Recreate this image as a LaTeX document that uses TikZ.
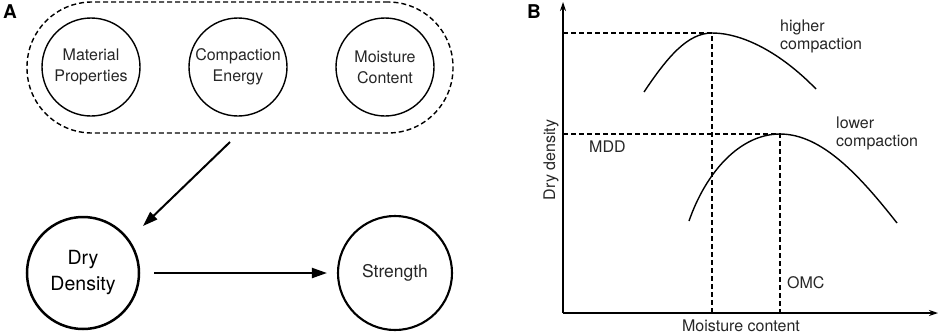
\documentclass[tikz,border=0pt]{standalone}
\usepackage{fontspec}
\setmainfont{TeX Gyre Heros}
\usetikzlibrary{arrows.meta}
\begin{document}
\begin{tikzpicture}[x=1pt,y=-1pt,
  smallc/.style={circle, draw, line width=1.4pt, minimum size=98pt, inner sep=0pt, align=center, text=black!85, font=\fontsize{16}{21}\selectfont},
  dryc/.style={circle, draw, line width=2.5pt, minimum size=112pt, inner sep=0pt, align=center, font=\fontsize{19.5}{26}\selectfont},
  strc/.style={circle, draw, line width=2.1pt, minimum size=114pt, inner sep=0pt, align=center, text=black!85, font=\fontsize{17.5}{21}\selectfont},
  grpbox/.style={draw, dashed, dash pattern=on 5pt off 3pt, line width=1.4pt, rounded corners=65pt, minimum width=426pt, minimum height=131pt, inner sep=0pt},
  bigarrow/.style={line width=2pt, -{Triangle[length=15pt,width=10pt]}},
  axis/.style={line width=1.3pt, -{Stealth[length=9pt,width=6pt]}},
  guide/.style={line width=1.2pt, dashed, dash pattern=on 5pt off 3pt},
  curve/.style={line width=1.4pt},
  lbl/.style={inner sep=0pt, text=black!85, font=\fontsize{16}{19}\selectfont},
  panel/.style={inner sep=0pt, font=\fontsize{19}{22}\selectfont\bfseries}
]
\useasboundingbox (0,0) rectangle (941,333);

% ---------- Panel A ----------
\node[panel, anchor=base west] (labA) at (3,18) {A};
\node[grpbox] (grp) at (240,67.5) {};
\node[smallc] (mat) at (91,67) {Material\\Properties};
\node[smallc] (ce) at (238,67) {Compaction\\Energy};
\node[smallc] (mc) at (385,67) {Moisture\\Content};
\node[dryc] (dry) at (83,273) {Dry\\Density};
\node[strc] (str) at (395,273) {Strength};
\coordinate (a1) at (230,142);
\coordinate (a2) at (143,226);
\draw[bigarrow] (a1) -- (a2);
\draw[bigarrow, shorten <=14pt, shorten >=10pt] (dry.east) -- (str.west);

% ---------- Panel B ----------
\node[panel, anchor=base west] (labB) at (527,18) {B};
\coordinate (O) at (563,313);
\coordinate (ytop) at (563,2);
\coordinate (xend) at (938,313);
\draw[axis] (O) -- (ytop);
\draw[axis] (O) -- (xend);

\coordinate (p1) at (712,33);
\coordinate (p2) at (780,134);
\coordinate (y1) at (563,33);
\coordinate (y2) at (563,134);
\coordinate (x1) at (712,313);
\coordinate (x2) at (780,313);
\draw[guide] (y1) -- (p1) -- (x1);
\draw[guide] (y2) -- (p2) -- (x2);

\coordinate (h0) at (644,92);
\coordinate (h1) at (816,89);
\coordinate (l0) at (689,221);
\coordinate (l1) at (897,223);
\draw[curve] (h0) .. controls (668,56) and (688,33) .. (p1) .. controls (742,33) and (780,52) .. (h1);
\draw[curve] (l0) .. controls (706,172) and (740,134) .. (p2) .. controls (822,134) and (860,176) .. (l1);

\node[lbl, anchor=base west] (t1) at (780,31) {higher};
\node[lbl, anchor=base west] (t2) at (780,49) {compaction};
\node[lbl, anchor=base west] (t3) at (836,128) {lower};
\node[lbl, anchor=base west] (t4) at (836,146) {compaction};
\node[lbl, anchor=base west] (mdd) at (589,152) {MDD};
\node[lbl, anchor=base west] (omc) at (787,288) {OMC};
\node[lbl, anchor=base] (xl) at (741,331) {Moisture content};
\node[lbl, rotate=90] (yl) at (551,160) {Dry density};
\end{tikzpicture}
\end{document}
